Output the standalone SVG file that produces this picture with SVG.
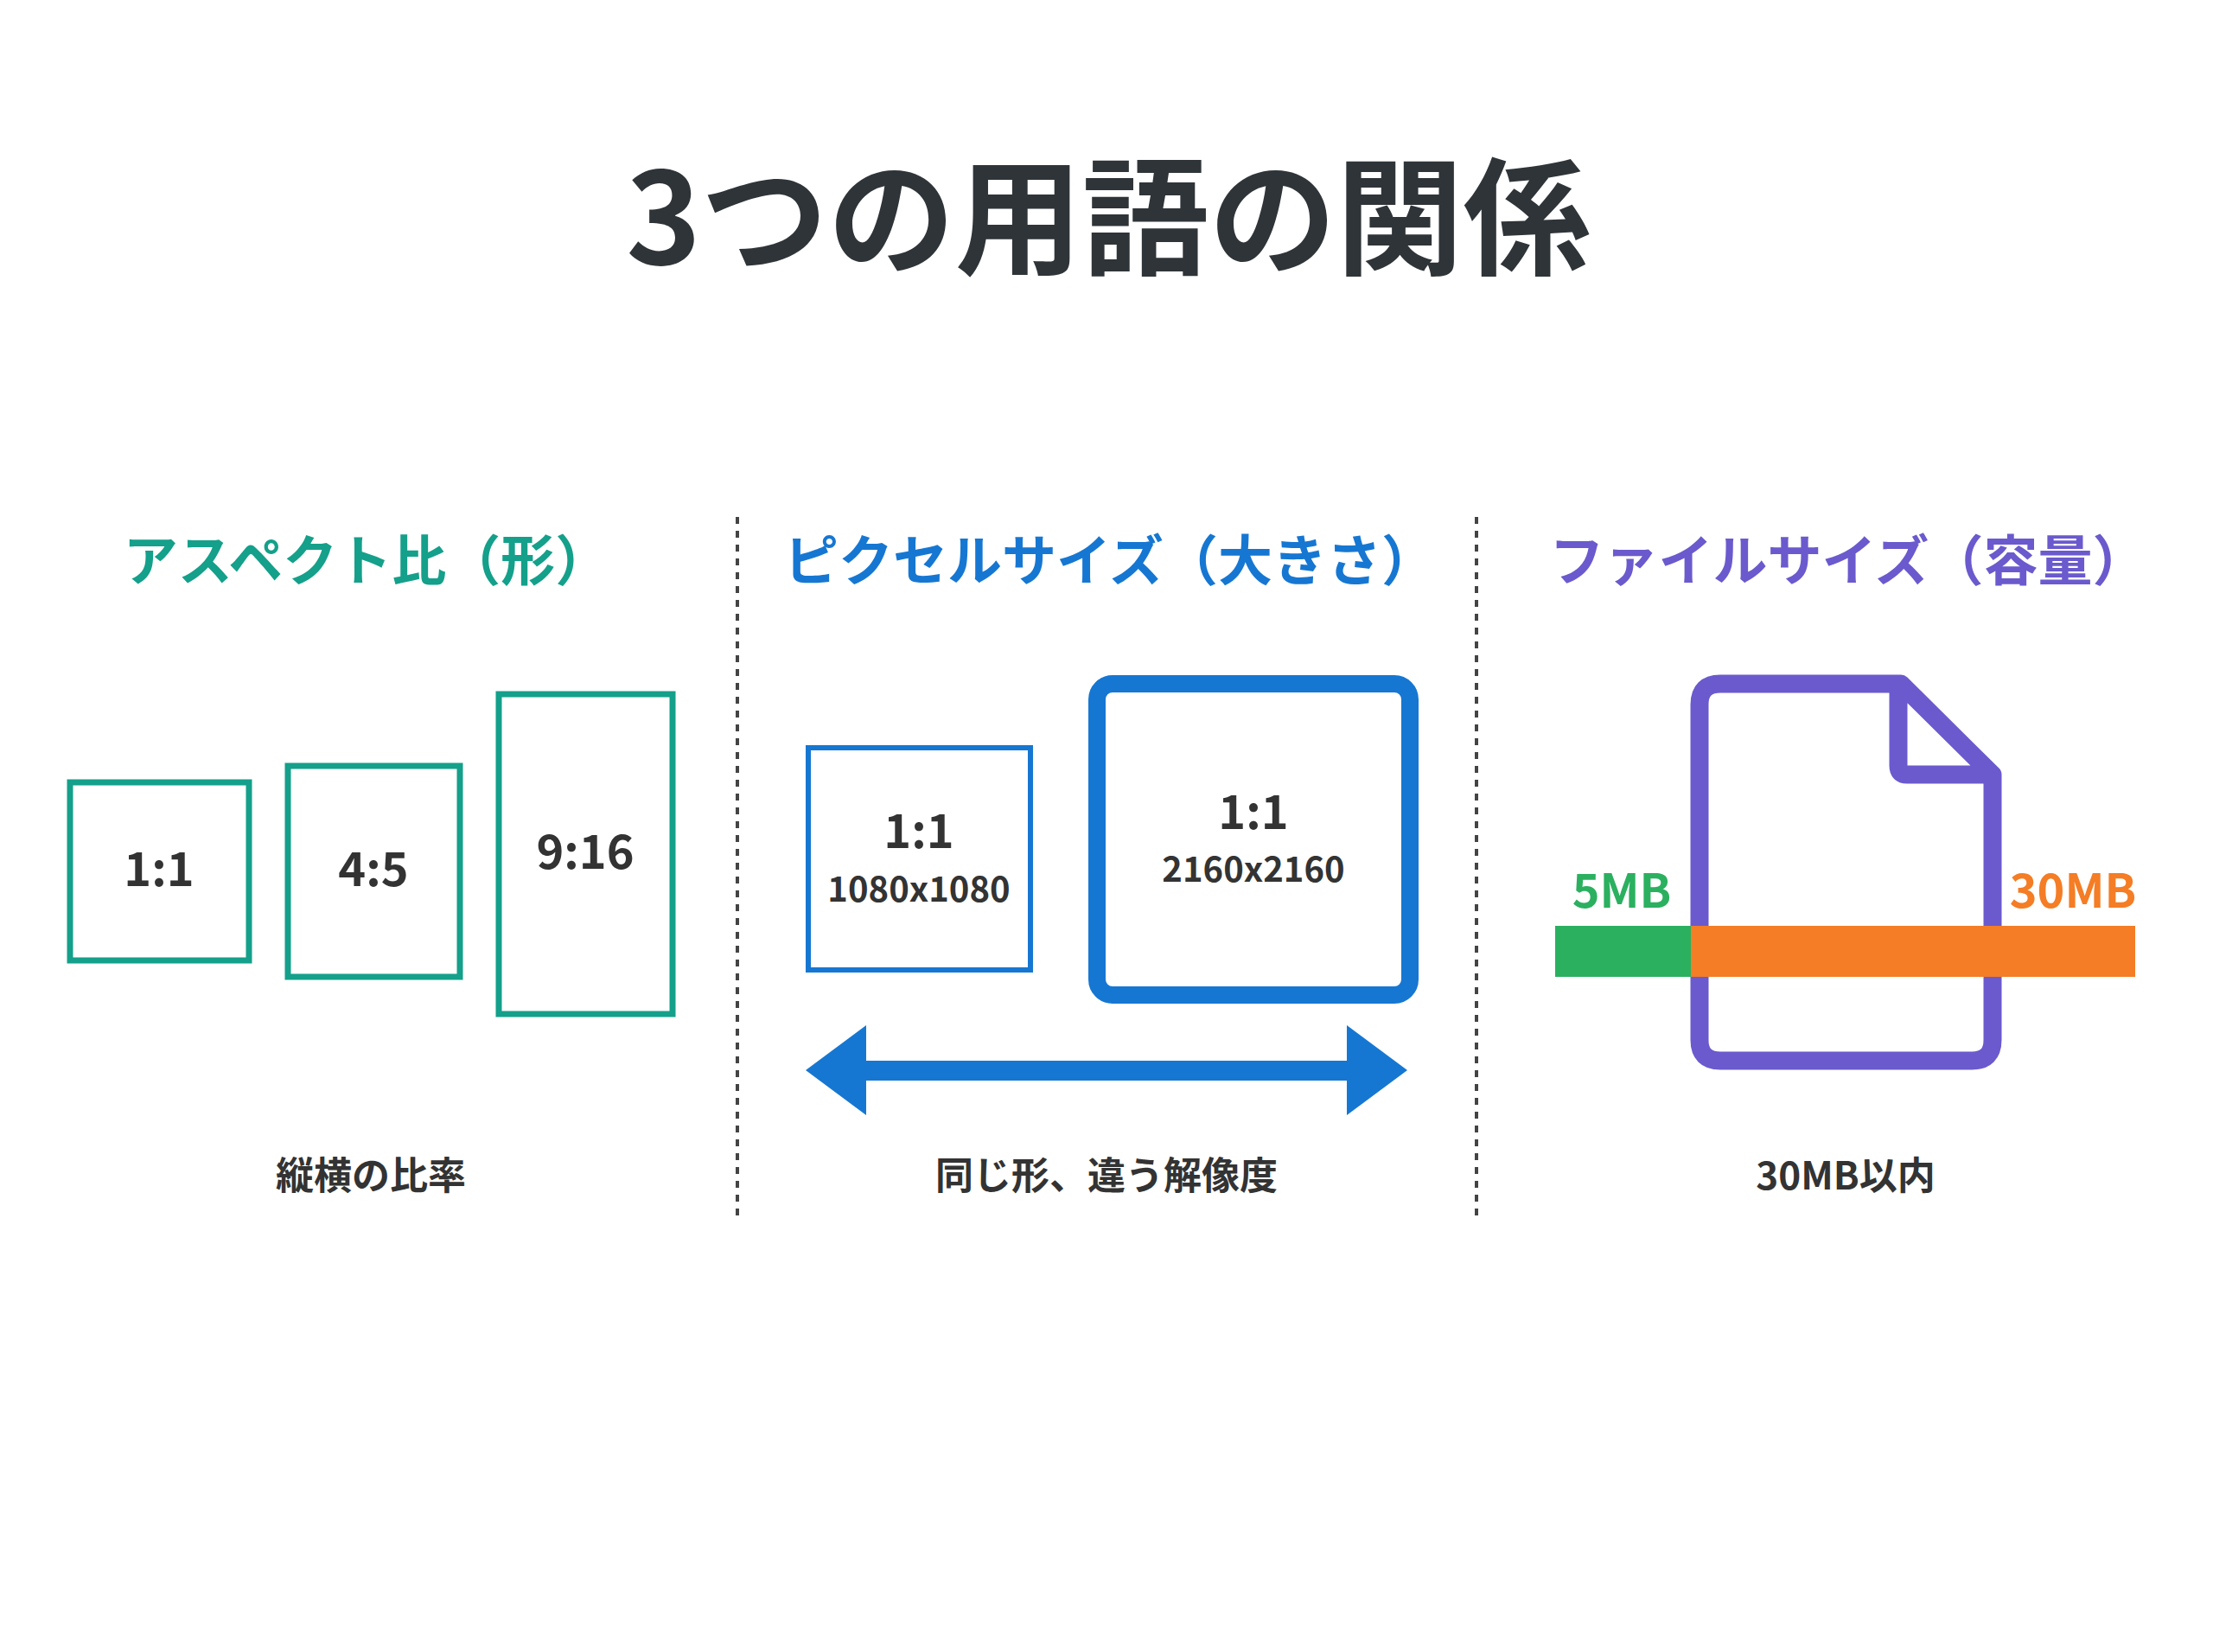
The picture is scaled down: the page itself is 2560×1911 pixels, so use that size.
<svg xmlns="http://www.w3.org/2000/svg" width="2560" height="1911" viewBox="0 0 2560 1911">
<style>
text{font-family:"Noto Sans CJK JP","Noto Sans",sans-serif;font-weight:700;text-anchor:middle}
.t{fill:#2f3438}
.h{font-size:63px}
.c{font-size:44px;fill:#333}
.n{font-size:54px;fill:#333}
.s{font-size:40px;fill:#333}
.teal{fill:none;stroke:#14a08a;stroke-width:7}
</style>
<rect width="2560" height="1911" fill="#fff"/>
<text id="title" class="t" x="1282" y="306" font-size="147">3つの用語の関係</text>
<g id="dividers" stroke="#444" stroke-width="4" stroke-dasharray="8,8">
<line x1="853" y1="598" x2="853" y2="1414"/>
<line x1="1708" y1="598" x2="1708" y2="1414"/>
</g>
<g id="aspect">
<text class="h" x="424" y="671" fill="#14a08a">アスペクト比（形）</text>
<g id="r11"><rect class="teal" x="81" y="905" width="207" height="206"/><text class="n" x="184" y="1025">1:1</text></g>
<g id="r45"><rect class="teal" x="333" y="886" width="199" height="244"/><text class="n" x="432" y="1025">4:5</text></g>
<g id="r916"><rect class="teal" x="577" y="803" width="201" height="370"/><text class="n" x="677" y="1005">9:16</text></g>
<text class="c" x="429" y="1376">縦横の比率</text>
</g>
<g id="pixel">
<text class="h" x="1284" y="671" fill="#1677d2">ピクセルサイズ（大きさ）</text>
<g id="small"><rect x="935" y="865" width="257" height="257" fill="none" stroke="#1677d2" stroke-width="6"/>
<text class="n" x="1063" y="981">1:1</text><text class="s" x="1063" y="1043">1080x1080</text></g>
<g id="big"><rect x="1269" y="791" width="362" height="360" rx="18" fill="none" stroke="#1677d2" stroke-width="20"/>
<text class="n" x="1450" y="959">1:1</text><text class="s" x="1450" y="1020">2160x2160</text></g>
<g id="arrow" fill="#1677d2"><rect x="995" y="1227" width="570" height="23"/>
<polygon points="932,1238 1002,1186 1002,1290"/><polygon points="1628,1238 1558,1186 1558,1290"/></g>
<text class="c" x="1280" y="1376">同じ形、違う解像度</text>
</g>
<g id="filesize">
<text class="h" x="2138" y="671" fill="#6a5acd">ファイルサイズ（容量）</text>
<path d="M1990,791 H2199 L2305,896 V1203 Q2305,1227 2281,1227 H1990 Q1966,1227 1966,1203 V815 Q1966,791 1990,791 Z M2196,796 V886 Q2196,896 2206,896 H2300" fill="none" stroke="#6a5acd" stroke-width="21" stroke-linejoin="round"/>
<rect x="1799" y="1071" width="157" height="59" fill="#2bb060"/>
<rect x="1956" y="1071" width="514" height="59" fill="#f47d25"/>
<text x="1876" y="1050" font-size="54" fill="#2bb060">5MB</text>
<text x="2398" y="1050" font-size="54" fill="#f47d25">30MB</text>
<text class="c" x="2135" y="1376">30MB以内</text>
</g>
</svg>
